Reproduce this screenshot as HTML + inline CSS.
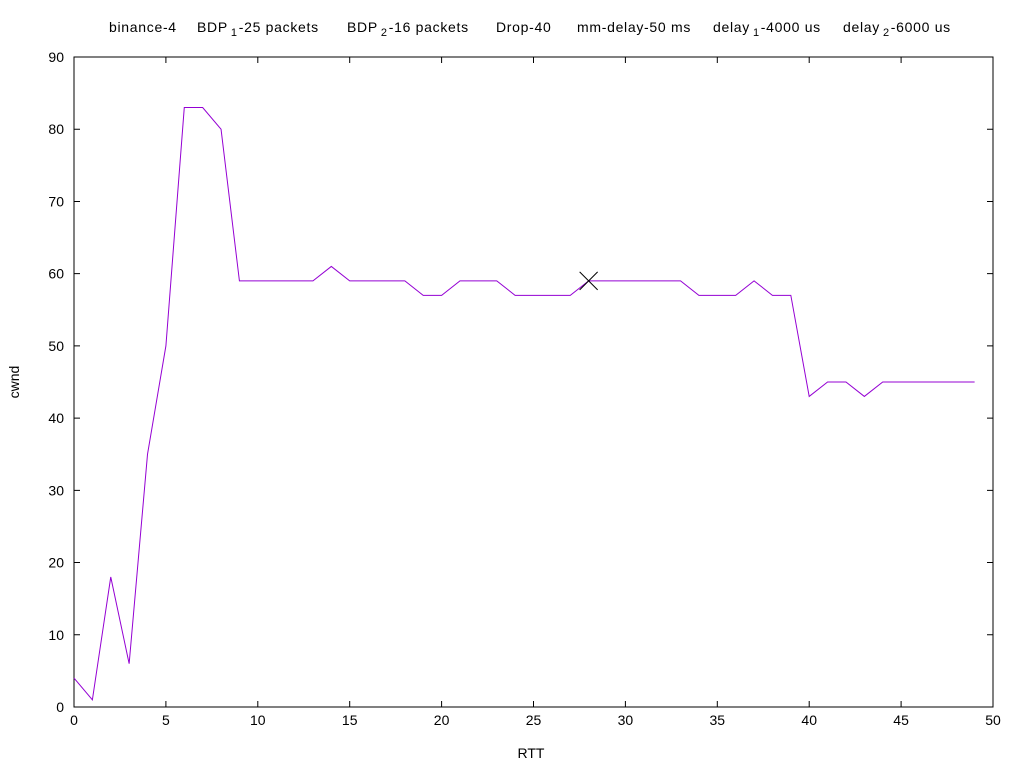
<!DOCTYPE html>
<html><head><meta charset="utf-8"><style>
html,body{margin:0;padding:0;background:#fff;}
svg{display:block;font-family:"Liberation Sans",sans-serif;font-size:14px;}
.tt text{letter-spacing:0.7px;}
</style></head><body>
<svg id="chart" width="1024" height="768" xmlns="http://www.w3.org/2000/svg">
<g class="tt">
<text x="109" y="32">binance-4</text>
<text x="197" y="32">BDP<tspan dx="3" dy="4" font-size="11">1</tspan><tspan dx="1" dy="-4">-25 packets</tspan></text>
<text x="347" y="32">BDP<tspan dx="3" dy="4" font-size="11">2</tspan><tspan dx="1" dy="-4">-16 packets</tspan></text>
<text x="496" y="32">Drop-40</text>
<text x="577" y="32">mm-delay-50 ms</text>
<text x="713" y="32">delay<tspan dx="3" dy="4" font-size="11">1</tspan><tspan dx="1" dy="-4">-4000 us</tspan></text>
<text x="843" y="32">delay<tspan dx="3" dy="4" font-size="11">2</tspan><tspan dx="1" dy="-4">-6000 us</tspan></text>
</g>
<g id="axes"></g>
<text x="531" y="758" text-anchor="middle">RTT</text>
<text x="19" y="382" text-anchor="middle" transform="rotate(-90 19 382)">cwnd</text>
</svg>
<script>
const xTicks=[0,5,10,15,20,25,30,35,40,45,50];
const yTicks=[0,10,20,30,40,50,60,70,80,90];
const cwnd=[4,1,18,6,35,50,83,83,80,59,59,59,59,59,61,59,59,59,59,57,57,59,59,59,57,57,57,57,59,59,59,59,59,59,57,57,57,59,57,57,43,45,45,43,45,45,45,45,45,45];
const markerPoint=[28,59];
const L=74,R=993,T=57,B=707;
const sx=v=>L+(v-0)/50*(R-L);
const sy=v=>B-(v-0)/90*(B-T);
const NS='http://www.w3.org/2000/svg';
const g=document.getElementById('axes');
function mk(t,a){const e=document.createElementNS(NS,t);for(const k in a)e.setAttribute(k,a[k]);g.appendChild(e);return e;}
const frame=mk('rect',{x:L,y:T,width:R-L,height:B-T,fill:'none',stroke:'#000','stroke-width':1});


xTicks.forEach(v=>{const x=sx(v);
 const t1=mk('path',{d:`M${x} ${B}v-6M${x} ${T}v6`,stroke:'#000'});
 
 
 const l=mk('text',{x:x,y:B+18,'text-anchor':'middle'});l.textContent=v;
 
 
});
yTicks.forEach(v=>{const y=sy(v);
 const t1=mk('path',{d:`M${L} ${y}h6M${R} ${y}h-6`,stroke:'#000'});
 
 
 const l=mk('text',{x:L-10,y:y+5,'text-anchor':'end'});l.textContent=v;
 
 
});
const line=mk('polyline',{points:cwnd.map((v,i)=>sx(i)+','+sy(v)).join(' '),fill:'none',stroke:'#9400d3','stroke-width':1});


const mx=sx(markerPoint[0]),my=sy(markerPoint[1]);
const m=mk('path',{d:`M${mx-9} ${my-9}L${mx+9} ${my+9}M${mx-9} ${my+9}L${mx+9} ${my-9}`,stroke:'#000','stroke-width':1});


</script>
</body></html>
